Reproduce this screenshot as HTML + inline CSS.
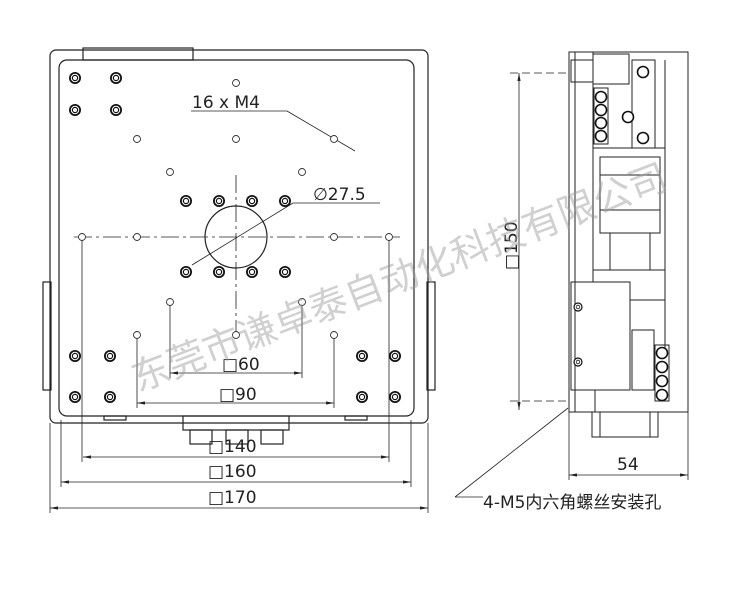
<!DOCTYPE html>
<html><head><meta charset="utf-8"><style>
html,body{margin:0;padding:0;background:#fff;width:750px;height:589px;overflow:hidden}
text{font-family:"DejaVu Sans","Liberation Sans","Noto Sans CJK SC",sans-serif;fill:#222;font-weight:normal}
</style></head><body>
<svg width="750" height="589" viewBox="0 0 750 589" xmlns="http://www.w3.org/2000/svg">
<defs>
<marker id="a" viewBox="0 0 10 4" refX="10" refY="2" markerWidth="10" markerHeight="4" orient="auto-start-reverse"><path d="M0,0L10,2L0,4z" fill="#222"/></marker>
<g id="H"><circle r="6" fill="#111"/><circle r="4.2" fill="#fff"/><circle r="2.6" fill="none" stroke="#111" stroke-width="1.2"/></g>
<g id="s"><circle r="3.5" fill="#fff" stroke="#333" stroke-width="0.9"/></g>
<g id="R"><circle r="5.5" fill="#fff" stroke="#111" stroke-width="1.6"/></g>
<g id="r"><circle r="4" fill="#fff" stroke="#111" stroke-width="1.2"/><circle r="1.8" fill="none" stroke="#111" stroke-width="0.8"/></g>
</defs>
<g fill="none" stroke="#222" stroke-width="1.2">
<rect x="50" y="50" width="378" height="373" rx="6"/>
<rect x="59" y="60" width="355" height="356" rx="8"/>
<rect x="83" y="48" width="110" height="12"/>
<rect x="43" y="282" width="8" height="108"/><rect x="427" y="282" width="8" height="108"/>
<rect x="183" y="416" width="106" height="14"/>
<rect x="190" y="430" width="22" height="14"/><rect x="226" y="430" width="22" height="14"/><rect x="261" y="430" width="22" height="14"/>
<rect x="104" y="416" width="22" height="4"/><rect x="345" y="416" width="22" height="4"/>
<circle cx="236" cy="237" r="31"/>
</g>
<g stroke="#222" stroke-width="0.8" fill="none">
<line x1="74" y1="237" x2="400" y2="237" stroke-dasharray="18,4,3,4"/>
<line x1="236" y1="175" x2="236" y2="335" stroke-dasharray="18,4,3,4"/>
<line x1="191" y1="111" x2="287" y2="111"/><line x1="287" y1="111" x2="355" y2="151"/>
<line x1="192" y1="265" x2="293" y2="203"/><line x1="293" y1="203" x2="380" y2="203"/>
<line x1="170" y1="302" x2="170" y2="378"/><line x1="302" y1="302" x2="302" y2="378"/>
<line x1="137" y1="335" x2="137" y2="408"/><line x1="334" y1="335" x2="334" y2="408"/>
<line x1="82" y1="237" x2="82" y2="462"/><line x1="389" y1="237" x2="389" y2="462"/>
<line x1="61" y1="420" x2="61" y2="487"/><line x1="411" y1="420" x2="411" y2="487"/>
<line x1="50" y1="423" x2="50" y2="513"/><line x1="428" y1="423" x2="428" y2="513"/>
<line x1="170" y1="373" x2="302" y2="373" marker-start="url(#a)" marker-end="url(#a)"/>
<line x1="137" y1="403" x2="334" y2="403" marker-start="url(#a)" marker-end="url(#a)"/>
<line x1="83" y1="457" x2="389" y2="457" marker-start="url(#a)" marker-end="url(#a)"/>
<line x1="61" y1="482" x2="411" y2="482" marker-start="url(#a)" marker-end="url(#a)"/>
<line x1="50" y1="508" x2="428" y2="508" marker-start="url(#a)" marker-end="url(#a)"/>
<line x1="519" y1="73" x2="519" y2="410" marker-start="url(#a)" marker-end="url(#a)"/>
<line x1="510" y1="73" x2="569" y2="73" stroke-dasharray="8,4"/>
<line x1="510" y1="401" x2="569" y2="401" stroke-dasharray="8,4"/>
<line x1="569" y1="412" x2="569" y2="480"/><line x1="688" y1="412" x2="688" y2="480"/>
<line x1="569" y1="475" x2="688" y2="475" marker-start="url(#a)" marker-end="url(#a)"/>
<line x1="455" y1="497" x2="483" y2="497"/><line x1="455" y1="497" x2="568" y2="408"/>
</g>
<g>
<use href="#H" x="75" y="78"/><use href="#H" x="116" y="78"/><use href="#H" x="75" y="110"/><use href="#H" x="116" y="110"/>
<use href="#H" x="75" y="356"/><use href="#H" x="110" y="356"/><use href="#H" x="362" y="356"/><use href="#H" x="395" y="356"/>
<use href="#H" x="75" y="397"/><use href="#H" x="110" y="397"/><use href="#H" x="362" y="397"/><use href="#H" x="395" y="397"/>
<use href="#H" x="186" y="201"/><use href="#H" x="219" y="201"/><use href="#H" x="252" y="201"/><use href="#H" x="285" y="201"/>
<use href="#H" x="186" y="272"/><use href="#H" x="219" y="272"/><use href="#H" x="252" y="272"/><use href="#H" x="285" y="272"/>
<use href="#s" x="236" y="83"/><use href="#s" x="137" y="139"/><use href="#s" x="236" y="139"/><use href="#s" x="334" y="139"/>
<use href="#s" x="170" y="172"/><use href="#s" x="302" y="172"/><use href="#s" x="82" y="237"/><use href="#s" x="137" y="237"/>
<use href="#s" x="334" y="237"/><use href="#s" x="389" y="237"/><use href="#s" x="170" y="302"/><use href="#s" x="302" y="302"/>
<use href="#s" x="137" y="335"/><use href="#s" x="236" y="335"/><use href="#s" x="334" y="335"/>
</g>
<!-- side view -->
<g fill="none" stroke="#222" stroke-width="1">
<rect x="569" y="52" width="119" height="360"/>
<line x1="575" y1="52" x2="575" y2="412"/>
<rect x="571" y="60" width="22" height="22"/>
<rect x="593" y="54" width="36" height="30"/>
<rect x="632" y="60" width="23" height="88"/>
<line x1="593" y1="52" x2="593" y2="282"/>
<line x1="655" y1="60" x2="655" y2="148"/><line x1="665" y1="60" x2="665" y2="350"/>
<rect x="594" y="88" width="14" height="56"/>
<line x1="593" y1="148" x2="665" y2="148"/>
<rect x="600" y="157" width="60" height="76"/>
<line x1="600" y1="175" x2="660" y2="175"/><line x1="600" y1="210" x2="660" y2="210"/>
<line x1="610" y1="233" x2="610" y2="270"/><line x1="650" y1="233" x2="650" y2="270"/>
<line x1="593" y1="270" x2="665" y2="270"/>
<rect x="571" y="282" width="59" height="108"/>
<line x1="630" y1="300" x2="665" y2="300"/>
<rect x="632" y="330" width="22" height="60"/>
<rect x="655" y="345" width="14" height="56"/>
<rect x="575" y="390" width="20" height="22"/>
<rect x="592" y="412" width="66" height="25"/>
<line x1="600" y1="412" x2="600" y2="437"/><line x1="650" y1="412" x2="650" y2="437"/>
</g>
<use href="#R" x="643" y="72"/><use href="#R" x="628" y="117"/><use href="#R" x="643" y="138"/>
<use href="#R" x="601" y="97"/><use href="#R" x="601" y="110"/><use href="#R" x="601" y="123"/><use href="#R" x="601" y="136"/>
<use href="#r" x="578" y="307"/><use href="#r" x="578" y="362"/>
<use href="#R" x="662" y="353"/><use href="#R" x="662" y="367"/><use href="#R" x="662" y="381"/><use href="#R" x="662" y="395"/>
<g font-size="17">
<text x="192" y="108">16 x  M4</text>
<text x="313" y="200">∅27.5</text>
<text x="222" y="370">□60</text>
<text x="219" y="400">□90</text>
<text x="208" y="452">□140</text>
<text x="208" y="477">□160</text>
<text x="208" y="503">□170</text>
<text x="617" y="470">54</text>
<text x="483" y="508">4-M5内六角螺丝安装孔</text>
<text transform="translate(517,270) rotate(-90)">□150</text>
</g>
<text transform="translate(138,392) rotate(-21)" font-size="38" style="fill:#999;opacity:0.45">东莞市谦卓泰自动化科技有限公司</text>
</svg>
</body></html>
